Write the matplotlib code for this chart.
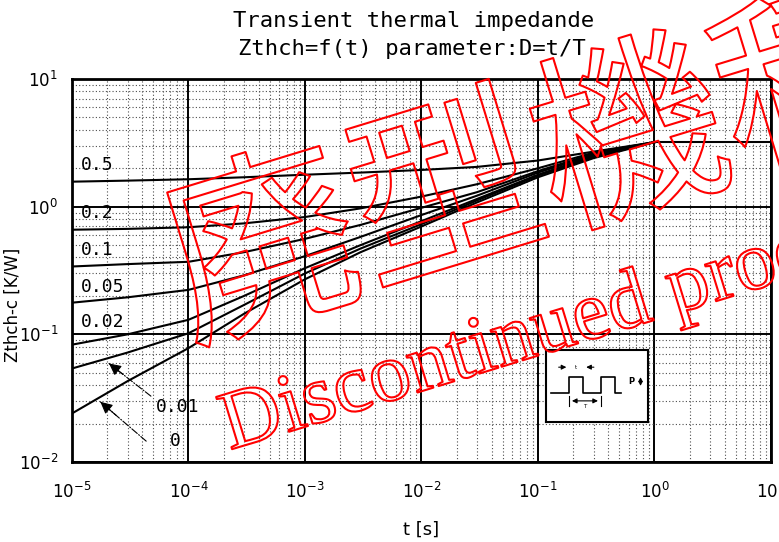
import numpy as np
import matplotlib
matplotlib.use('Agg')
import matplotlib.pyplot as plt
import matplotlib.patheffects as pe
from matplotlib.ticker import LogLocator, NullFormatter

# lecture du graphe (t en s, Zth en K/W)
t = [1e-5, 3e-5, 1e-4, 3e-4, 1e-3, 3e-3, 1e-2, 3e-2, 1e-1, 3e-1, 1]
z_d05 = [1.57, 1.60, 1.64, 1.70, 1.78, 1.85, 1.94, 2.05, 2.30, 2.70, 3.2]
z_d02 = [0.66, 0.67, 0.69, 0.74, 0.83, 0.97, 1.20, 1.50, 2.00, 2.65, 3.2]
z_d01 = [0.34, 0.355, 0.37, 0.44, 0.56, 0.72, 0.98, 1.30, 1.90, 2.60, 3.2]
z_d005 = [0.177, 0.195, 0.223, 0.29, 0.41, 0.58, 0.86, 1.22, 1.85, 2.55, 3.2]
z_d002 = [0.083, 0.10, 0.13, 0.20, 0.33, 0.50, 0.77, 1.15, 1.78, 2.50, 3.2]
z_d001 = [0.054, 0.072, 0.102, 0.17, 0.30, 0.47, 0.73, 1.12, 1.75, 2.45, 3.2]
z_d0 = [0.024, 0.043, 0.078, 0.145, 0.27, 0.44, 0.70, 1.08, 1.70, 2.40, 3.2]
t_ss = [1, 10]
z_ss = [3.2, 3.2]

courbes = [z_d05, z_d02, z_d01, z_d005, z_d002, z_d001, z_d0]
labels_gauche = ['0.5', '0.2', '0.1', '0.05', '0.02']
labels_y = [2.12, 0.89, 0.46, 0.235, 0.125]

fig = plt.figure(figsize=(7.79, 5.42), dpi=100)
ax = fig.add_axes([0.0924, 0.1476, 0.8973, 0.7066])
ax.set_xscale('log')
ax.set_yscale('log')
ax.set_xlim(1e-5, 1e1)
ax.set_ylim(1e-2, 1e1)

for ax_ in (ax.xaxis, ax.yaxis):
    ax_.set_major_locator(LogLocator(base=10, numticks=12))
    ax_.set_minor_locator(LogLocator(base=10, subs=np.arange(2, 10), numticks=12))
    ax_.set_minor_formatter(NullFormatter())

ax.grid(which='major', color='black', lw=1.4)
ax.grid(which='minor', color='0.3', lw=0.8, linestyle=(0, (1, 2)))
ax.tick_params(which='both', length=0, labelsize=12)
ax.tick_params(axis='x', pad=14)
ax.tick_params(axis='y', pad=10)
for s in ax.spines.values():
    s.set_linewidth(2)

for z in courbes:
    ax.plot(t, z, color='black', lw=1.5)
ax.plot(t_ss, z_ss, color='black', lw=1.5)

# labels des courbes
for lab, y in zip(labels_gauche, labels_y):
    ax.text(1.2e-5, y, lab, family='DejaVu Sans Mono', fontsize=13, va='center', ha='left')
ax.text(8.0e-5, 0.027, '0.01', family='DejaVu Sans Mono', fontsize=13, va='center', ha='center')
ax.text(7.7e-5, 0.0146, '0', family='DejaVu Sans Mono', fontsize=13, va='center', ha='center')

# fleches vers 0.01 et 0
fleches = [((1.99e-5, 0.061), (4.97e-5, 0.0318)), ((1.68e-5, 0.0306), (4.52e-5, 0.0141))]
for (hx, hy), (tx, ty) in fleches:
    ax.annotate('', xy=(hx, hy), xytext=(tx, ty),
                arrowprops=dict(arrowstyle='-', linestyle='-.', lw=0.8, color='black'))
    mx, my = hx ** 0.6 * tx ** 0.4, hy ** 0.6 * ty ** 0.4
    ax.annotate('', xy=(hx, hy), xytext=(mx, my),
                arrowprops=dict(arrowstyle='-|>', lw=0.8, color='black', mutation_scale=18))

ax.set_xlabel('t [s]', fontsize=13, labelpad=14)
ax.set_ylabel('Zthch-c [K/W]', fontsize=12)
ax.yaxis.set_label_coords(-0.072, 0.41)

fig.text(0.531, 0.962, 'Transient thermal impedande', family='DejaVu Sans Mono',
         fontsize=16, ha='center', va='center')
fig.text(0.529, 0.910, 'Zthch=f(t) parameter:D=t/T', family='DejaVu Sans Mono',
         fontsize=16, ha='center', va='center')

# petit schema d'impulsions
ins = fig.add_axes([0.7005, 0.2220, 0.1309, 0.1323])
ins.set_xlim(0, 1)
ins.set_ylim(0, 1)
ins.set_xticks([])
ins.set_yticks([])
for s in ins.spines.values():
    s.set_linewidth(1.5)
ins.plot([0.05, 0.23, 0.23, 0.37, 0.37, 0.54, 0.54, 0.68, 0.68, 0.74],
         [0.40, 0.40, 0.62, 0.62, 0.40, 0.40, 0.62, 0.62, 0.40, 0.40], color='black', lw=1.2)
ins.annotate('', xy=(0.23, 0.76), xytext=(0.10, 0.76),
             arrowprops=dict(arrowstyle='-|>', lw=0.8, color='black', mutation_scale=7))
ins.annotate('', xy=(0.37, 0.76), xytext=(0.50, 0.76),
             arrowprops=dict(arrowstyle='-|>', lw=0.8, color='black', mutation_scale=7))
ins.text(0.30, 0.76, 't', fontsize=4, ha='center', va='center')
ins.annotate('', xy=(0.23, 0.29), xytext=(0.54, 0.29),
             arrowprops=dict(arrowstyle='<|-|>', lw=0.8, color='black', mutation_scale=7))
ins.plot([0.23, 0.23], [0.22, 0.36], color='black', lw=0.8)
ins.plot([0.54, 0.54], [0.22, 0.36], color='black', lw=0.8)
ins.text(0.385, 0.21, 'T', fontsize=4, ha='center', va='center')
ins.text(0.84, 0.56, 'P', fontsize=6, ha='center', va='center', fontweight='bold')
ins.annotate('', xy=(0.93, 0.66), xytext=(0.93, 0.46),
             arrowprops=dict(arrowstyle='<|-|>', lw=0.8, color='black', mutation_scale=6))

# filigrane rouge
contour = [pe.Stroke(linewidth=1.5, foreground='red')]
fig.text(0.692, 0.680, '廃型機種', family=['Noto Sans CJK JP', 'DejaVu Sans'], fontsize=138,
         rotation=17, rotation_mode='anchor', ha='center', va='center',
         color='none', path_effects=contour)
fig.text(0.295, 0.170, 'Discontinued products', family='Liberation Serif', fontsize=60,
         rotation=17, rotation_mode='anchor', ha='left', va='baseline',
         color='none', path_effects=contour)

fig.savefig('out.png', dpi=100)
